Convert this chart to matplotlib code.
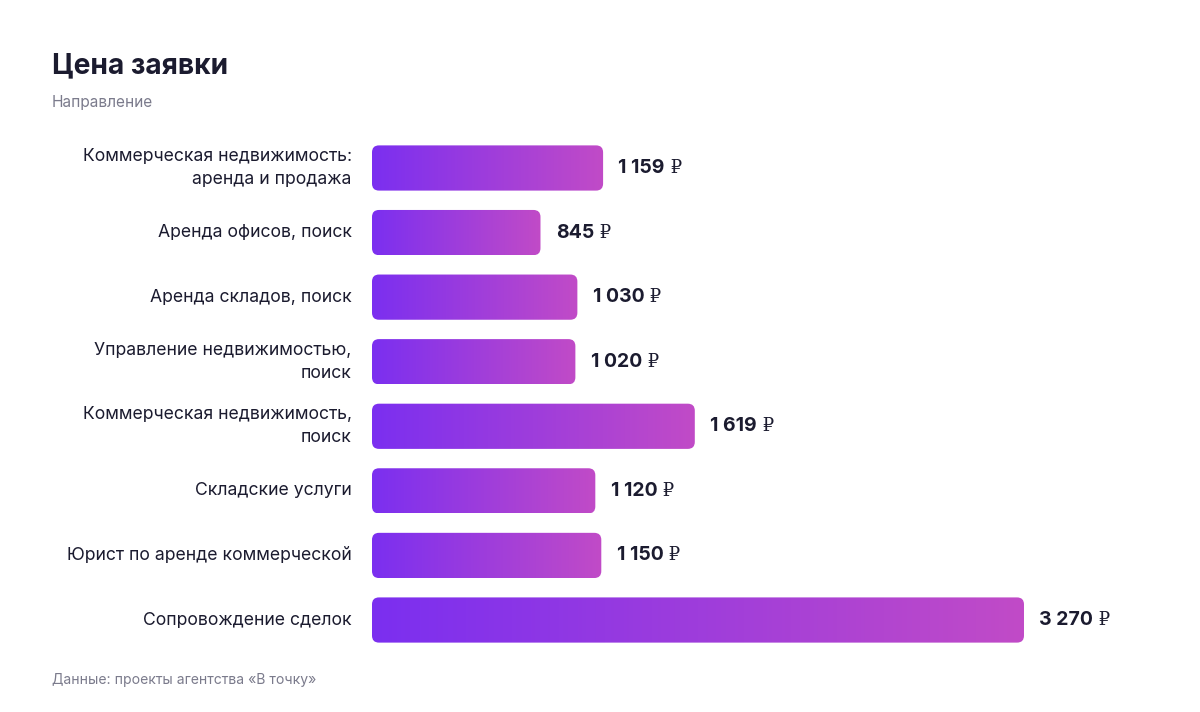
import numpy as np
import matplotlib.pyplot as plt
from matplotlib.patches import FancyBboxPatch
from matplotlib.colors import LinearSegmentedColormap

categories = [
    "Коммерческая недвижимость:\nаренда и продажа",
    "Аренда офисов, поиск",
    "Аренда складов, поиск",
    "Управление недвижимостью,\nпоиск",
    "Коммерческая недвижимость,\nпоиск",
    "Складские услуги",
    "Юрист по аренде коммерческой",
    "Сопровождение сделок",
]
values = [1159, 845, 1030, 1020, 1619, 1120, 1150, 3270]
value_labels = ["1 159", "845", "1 030", "1 020", "1 619", "1 120", "1 150", "3 270"]

title = "Цена заявки"
subtitle = "Направление"
source = "Данные: проекты агентства «В точку»"

plt.rcParams['font.family'] = ['Inter', 'DejaVu Sans']

W, H = 1200, 712
fig = plt.figure(figsize=(W / 100, H / 100), dpi=100)
fig.patch.set_facecolor("white")

# область графика в пикселях
left_px, right_px = 372, 1024
top_px, bottom_px = 135.7, 652.3
ax = fig.add_axes([left_px / W, 1 - bottom_px / H,
                   (right_px - left_px) / W, (bottom_px - top_px) / H])
ax.set_xlim(0, max(values))
ax.set_ylim(len(values) - 0.5, -0.5)
ax.axis("off")

grad = LinearSegmentedColormap.from_list("bar", ["#7b2ff0", "#c14bc7"])
gradient = np.linspace(0, 1, 256).reshape(1, -1)

bar_h = 0.70
px_per_x = (right_px - left_px) / max(values)
px_per_y = (bottom_px - top_px) / len(values)
radius = 7 / px_per_x
aspect = (7 / px_per_y) / radius

for i, (v, lab) in enumerate(zip(values, value_labels)):
    patch = FancyBboxPatch((0, i - bar_h / 2), v, bar_h,
                           boxstyle=f"round,pad=0,rounding_size={radius}",
                           mutation_aspect=aspect,
                           facecolor="none", edgecolor="none")
    ax.add_patch(patch)
    im = ax.imshow(gradient, cmap=grad, aspect="auto",
                   extent=(0, v, i + bar_h / 2, i - bar_h / 2), zorder=2)
    im.set_clip_path(patch)
    t = ax.annotate(lab, xy=(v, i), xytext=(11, 0),
                    textcoords="offset points", ha="left", va="center",
                    fontsize=14, fontweight="bold", color="#1b1b2f")
    ax.annotate(" ₽", xy=(1, 0.5), xycoords=t, ha="left", va="center",
                fontsize=13, color="#1b1b2f", family=["DejaVu Serif"])

    ax.annotate(categories[i], xy=(0, i), xytext=(-14.5, 0),
                textcoords="offset points", ha="right", va="center",
                fontsize=12.7, color="#1b1b2f", linespacing=1.45,
                annotation_clip=False)

ax.set_xlim(0, max(values))
ax.set_ylim(len(values) - 0.5, -0.5)

fig.text(52 / W, 1 - 66 / H, title, fontsize=20.3, fontweight="bold",
         color="#1b1b2f", ha="left", va="center")
fig.text(52 / W, 1 - 102 / H, subtitle, fontsize=11.1, color="#7b7b8c",
         ha="left", va="center")
fig.text(52 / W, 1 - 680 / H, source, fontsize=10.1, color="#7b7b8c",
         ha="left", va="center")

fig.savefig("out.png", dpi=100)
